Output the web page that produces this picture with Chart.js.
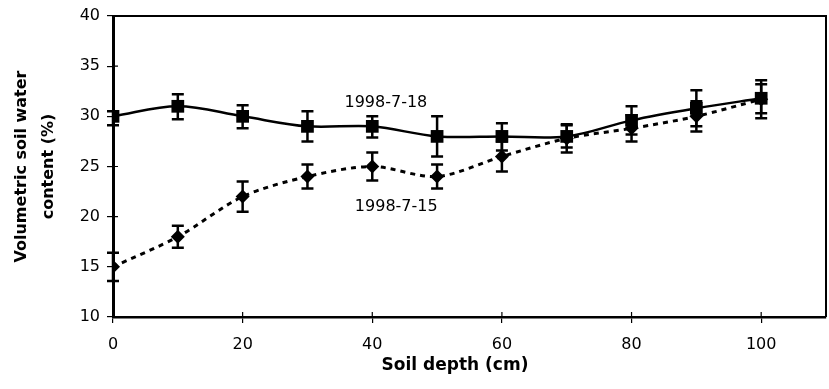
<!DOCTYPE html>
<html>
<head>
<meta charset="utf-8">
<script src="https://cdn.jsdelivr.net/npm/chart.js@4/dist/chart.umd.min.js"></script>
<style>
  html, body { margin: 0; padding: 0; background: #fff; overflow: hidden; }
  #wrap { position: relative; width: 829px; height: 389px; }
  canvas { display: block; }
</style>
</head>
<body>
<div id="wrap"><canvas id="c" width="829" height="389"></canvas></div>
<script>
// Soil depth (cm) of each sampling layer
const depths = [0, 10, 20, 30, 40, 50, 60, 70, 80, 90, 100];

// Volumetric soil water content (%) on 1998-7-18 with error bar extents
const water0718 = [30, 31, 30, 29, 29, 28, 28, 28, 29.6, 30.8, 31.8];
const err0718Up = [0.5, 1.2, 1.1, 1.5, 1.0, 2.0, 1.3, 1.1, 1.4, 1.8, 1.4];
const err0718Down = [0.9, 1.3, 1.2, 1.5, 1.1, 2.0, 1.4, 1.1, 1.4, 1.8, 1.5];

// Volumetric soil water content (%) on 1998-7-15 with error bar extents
const water0715 = [15, 18, 22, 24, 25, 24, 26, 27.8, 28.8, 30, 31.7];
const err0715Up = [1.4, 1.1, 1.5, 1.2, 1.4, 1.2, 1.5, 1.4, 1.3, 1.5, 1.9];
const err0715Down = [1.4, 1.1, 1.5, 1.2, 1.4, 1.2, 1.5, 1.4, 1.3, 1.5, 1.9];

// Axis tick values
const xTicks = [0, 20, 40, 60, 80, 100];
const yTicks = [10, 15, 20, 25, 30, 35, 40];

// Series names written next to the curves
const seriesNames = ['1998-7-18', '1998-7-15'];

const FONT = 'DejaVu Sans';
const INK = '#000';

function toPoints(ys) {
  return depths.map((d, i) => ({ x: d, y: ys[i] }));
}

// Vertical error bars with caps, drawn below the markers
const errorBars = {
  id: 'errorBars',
  beforeDatasetsDraw(chart) {
    const { ctx, scales: { x, y } } = chart;
    const sets = [[water0718, err0718Up, err0718Down], [water0715, err0715Up, err0715Down]];
    ctx.save();
    ctx.strokeStyle = INK;
    ctx.lineWidth = 2.5;
    const cap = 6;
    sets.forEach(([vals, up, down]) => {
      vals.forEach((v, i) => {
        const px = x.getPixelForValue(depths[i]);
        const top = y.getPixelForValue(v + up[i]);
        const bot = y.getPixelForValue(v - down[i]);
        ctx.beginPath();
        ctx.moveTo(px, top); ctx.lineTo(px, bot);
        ctx.moveTo(px - cap, top); ctx.lineTo(px + cap, top);
        ctx.moveTo(px - cap, bot); ctx.lineTo(px + cap, bot);
        ctx.stroke();
      });
    });
    ctx.restore();
  }
};

// Plot frame, inward tick marks, curve names and the x axis title
const frameAndText = {
  id: 'frameAndText',
  afterDraw(chart) {
    const { ctx, chartArea: a, scales: { x, y } } = chart;
    ctx.save();
    ctx.strokeStyle = INK;
    ctx.lineWidth = 2;
    ctx.beginPath();
    ctx.moveTo(a.left, a.top); ctx.lineTo(a.right, a.top); ctx.lineTo(a.right, a.bottom);
    ctx.stroke();
    ctx.lineWidth = 1.2;
    ctx.beginPath();
    x.ticks.forEach(t => {
      const px = x.getPixelForValue(t.value);
      ctx.moveTo(px, a.bottom); ctx.lineTo(px, a.bottom - 5);
    });
    y.ticks.forEach(t => {
      const py = y.getPixelForValue(t.value);
      ctx.moveTo(a.left, py); ctx.lineTo(a.left + 5, py);
    });
    ctx.stroke();

    ctx.fillStyle = INK;
    ctx.textAlign = 'center';
    ctx.textBaseline = 'middle';
    ctx.font = '16px "' + FONT + '"';
    ctx.fillText(seriesNames[0], x.getPixelForValue(42.1), y.getPixelForValue(31.3));
    ctx.fillText(seriesNames[1], x.getPixelForValue(43.7), y.getPixelForValue(21.0));

    ctx.font = 'bold 17px "' + FONT + '"';
    ctx.fillText('Soil depth (cm)', 455, 366);
    ctx.restore();
  }
};

new Chart(document.getElementById('c'), {
  type: 'line',
  data: {
    datasets: [
      {
        label: seriesNames[0],
        data: toPoints(water0718),
        borderColor: INK,
        backgroundColor: INK,
        borderWidth: 2.5,
        tension: 0.35,
        pointStyle: 'rect',
        pointRadius: 9,
        pointBorderWidth: 0,
        pointBackgroundColor: INK
      },
      {
        label: seriesNames[1],
        data: toPoints(water0715),
        borderColor: INK,
        backgroundColor: INK,
        borderWidth: 3,
        borderDash: [5, 5],
        tension: 0.3,
        pointStyle: 'rectRot',
        pointRadius: 7,
        pointBorderWidth: 0,
        pointBackgroundColor: INK
      }
    ]
  },
  options: {
    responsive: false,
    animation: false,
    events: [],
    layout: { autoPadding: false, padding: { top: 16, right: 3, left: 0, bottom: 0 } },
    plugins: { legend: { display: false }, tooltip: { enabled: false } },
    scales: {
      x: {
        type: 'linear',
        min: 0,
        max: 110,
        afterBuildTicks: s => { s.ticks = xTicks.map(v => ({ value: v })); },
        afterFit: s => { s.height = 72; s.paddingLeft = 0; s.paddingRight = 0; },
        grid: { display: true, drawOnChartArea: false, drawTicks: true, tickLength: 6, color: INK, lineWidth: 1.2 },
        border: { display: true, color: INK, width: 2.5 },
        ticks: { color: INK, font: { family: FONT, size: 16 }, padding: 12, maxRotation: 0 }
      },
      y: {
        type: 'linear',
        min: 10,
        max: 40,
        afterBuildTicks: s => { s.ticks = yTicks.map(v => ({ value: v })); },
        afterFit: s => { s.width = 113; s.paddingTop = 0; s.paddingBottom = 0; },
        grid: { display: true, drawOnChartArea: false, drawTicks: true, tickLength: 6, color: INK, lineWidth: 1.2 },
        border: { display: true, color: INK, width: 3 },
        ticks: { color: INK, font: { family: FONT, size: 16 }, padding: 7 },
        title: {
          display: true,
          text: ['Volumetric soil water', 'content (%)'],
          color: INK,
          font: { family: FONT, size: 16, weight: 'bold', lineHeight: 1.7 },
          padding: { top: 8, bottom: 0 }
        }
      }
    }
  },
  plugins: [errorBars, frameAndText]
});
</script>
</body>
</html>
